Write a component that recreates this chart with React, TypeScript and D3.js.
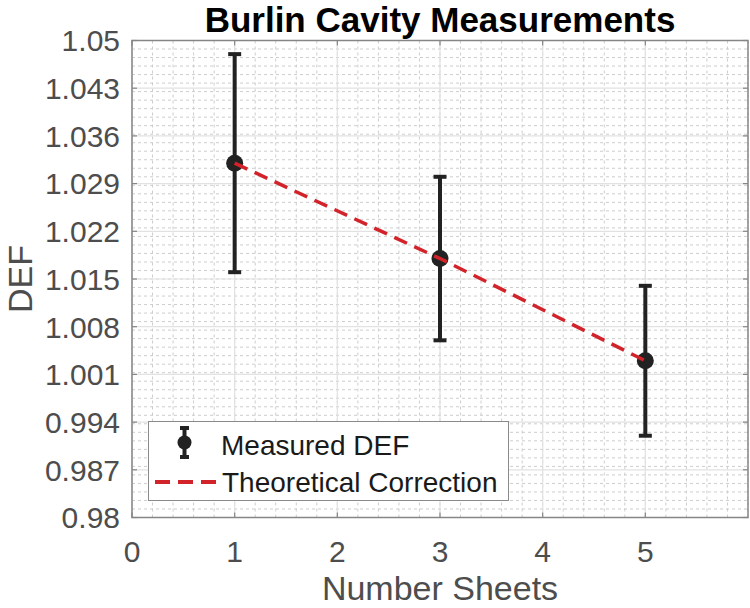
import React from "react";
import * as d3 from "d3";

const sheets = [1, 3, 5];
const measuredDEF = [1.032, 1.018, 1.003];
const measuredErr = [0.016, 0.012, 0.011];
const theoreticalDEF = [1.032, 1.018, 1.003];
const xTicks = [0, 1, 2, 3, 4, 5];
const yTicks = [0.98, 0.987, 0.994, 1.001, 1.008, 1.015, 1.022, 1.029, 1.036, 1.043, 1.05];
const yTickLabels = ["0.98", "0.987", "0.994", "1.001", "1.008", "1.015", "1.022", "1.029", "1.036", "1.043", "1.05"];
const title = "Burlin Cavity Measurements";
const xLabel = "Number Sheets";
const yLabel = "DEF";
const legendLabels = ["Measured DEF", "Theoretical Correction"];

const W = 750;
const H = 608;
const L = 132, R = 748, T = 40.5, B = 517.5;
const FONT = "'Liberation Sans', Arial, Helvetica, sans-serif";

export default function App() {
  const x = d3.scaleLinear().domain([0, 6]).range([L, R]);
  const y = d3.scaleLinear().domain([0.98, 1.05]).range([B, T]);
  const xMinor = d3.range(0, 6.0001, 0.2);
  const yMinor = d3.range(0, 57).map((i) => 0.98 + i * 0.00125);
  const line = d3
    .line<number>()
    .x((_, i) => x(sheets[i]))
    .y((d) => y(d));
  const axisColor = "#868686";
  const red = "#d3232a";
  const dark = "#222222";
  const tickLen = 5;

  return (
    <svg
      width={W}
      height={H}
      style={{ position: "absolute", left: 0, top: 0, background: "#fff" }}
      fontFamily={FONT}
    >
      <rect x={0} y={0} width={W} height={H} fill="#fff" />
      {/* minor grid */}
      <g stroke="#cdcdcd" strokeWidth={1} strokeDasharray="3,3">
        {xMinor.map((v, i) => (
          <line key={"xm" + i} x1={x(v)} x2={x(v)} y1={T} y2={B} />
        ))}
        {yMinor.map((v, i) => (
          <line key={"ym" + i} x1={L} x2={R} y1={y(v)} y2={y(v)} />
        ))}
      </g>
      {/* major grid */}
      <g stroke="#e2e2e2" strokeWidth={1.2}>
        {xTicks.map((v) => (
          <line key={"xg" + v} x1={x(v)} x2={x(v)} y1={T} y2={B} />
        ))}
        {yTicks.map((v) => (
          <line key={"yg" + v} x1={L} x2={R} y1={y(v)} y2={y(v)} />
        ))}
      </g>
      {/* axes box */}
      <rect x={L} y={T} width={R - L} height={B - T} fill="none" stroke={axisColor} strokeWidth={1.5} />
      <g stroke={axisColor} strokeWidth={1.2}>
        {xTicks.map((v) => (
          <g key={"xt" + v}>
            <line x1={x(v)} x2={x(v)} y1={B} y2={B - tickLen} />
            <line x1={x(v)} x2={x(v)} y1={T} y2={T + tickLen} />
          </g>
        ))}
        {yTicks.map((v) => (
          <g key={"yt" + v}>
            <line x1={L} x2={L + tickLen} y1={y(v)} y2={y(v)} />
            <line x1={R} x2={R - tickLen} y1={y(v)} y2={y(v)} />
          </g>
        ))}
      </g>
      {/* tick labels */}
      <g fill="#4d4d4d" fontSize={30}>
        {xTicks.map((v) => (
          <text key={"xl" + v} x={x(v)} y={562} textAnchor="middle">
            {String(v)}
          </text>
        ))}
        {yTicks.map((v, i) => (
          <text key={"yl" + v} x={120} y={y(v)} dy="0.36em" textAnchor="end">
            {yTickLabels[i]}
          </text>
        ))}
      </g>
      {/* error bars */}
      <g stroke={dark} strokeWidth={4}>
        {sheets.map((s, i) => {
          const cx = x(s);
          const top = y(measuredDEF[i] + measuredErr[i]);
          const bot = y(measuredDEF[i] - measuredErr[i]);
          return (
            <g key={"eb" + i}>
              <line x1={cx} x2={cx} y1={top} y2={bot} />
              <line x1={cx - 6.5} x2={cx + 6.5} y1={top} y2={top} />
              <line x1={cx - 6.5} x2={cx + 6.5} y1={bot} y2={bot} />
            </g>
          );
        })}
      </g>
      <g fill={dark}>
        {sheets.map((s, i) => (
          <circle key={"pt" + i} cx={x(s)} cy={y(measuredDEF[i])} r={8.5} />
        ))}
      </g>
      {/* theoretical line */}
      <path d={line(theoreticalDEF) || ""} fill="none" stroke={red} strokeWidth={3.5} strokeDasharray="14,8" />
      {/* legend */}
      <g>
        <rect x={148.5} y={421.5} width={360} height={79} fill="#fff" stroke="#8a8a8a" strokeWidth={1} />
        <g stroke={dark} strokeWidth={4}>
          <line x1={184.5} x2={184.5} y1={428} y2={457} />
          <line x1={180} x2={189} y1={428} y2={428} />
          <line x1={180} x2={189} y1={457} y2={457} />
        </g>
        <circle cx={184.5} cy={442.5} r={7} fill={dark} />
        <line x1={155} x2={216} y1={482} y2={482} stroke={red} strokeWidth={4} strokeDasharray="15,8" />
        <g fill="#1a1a1a" fontSize={28}>
          <text x={221} y={445} dy="0.36em">{legendLabels[0]}</text>
          <text x={222} y={482} dy="0.36em">{legendLabels[1]}</text>
        </g>
      </g>
      {/* labels */}
      <text x={(L + R) / 2} y={32} textAnchor="middle" fontWeight="bold" fontSize={35} fill="#000">
        {title}
      </text>
      <text x={(L + R) / 2} y={600} textAnchor="middle" fontSize={34} fill="#4d4d4d">
        {xLabel}
      </text>
      <text transform={`translate(32, ${(T + B) / 2}) rotate(-90)`} textAnchor="middle" fontSize={34} fill="#4d4d4d">
        {yLabel}
      </text>
    </svg>
  );
}
